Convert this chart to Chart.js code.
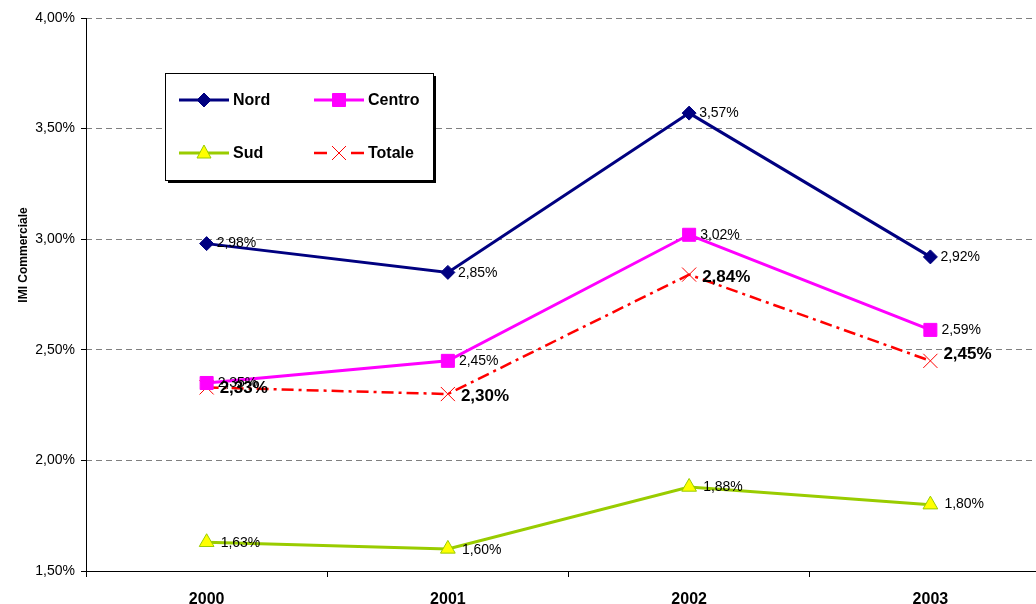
<!DOCTYPE html>
<html>
<head>
<meta charset="utf-8">
<script src="https://cdn.jsdelivr.net/npm/chart.js@4.4.1/dist/chart.umd.min.js"></script>
<style>
html,body{margin:0;padding:0;background:#fff;overflow:hidden;}
#wrap{position:relative;width:1062px;height:604px;}
canvas{display:block;}
</style>
</head>
<body>
<div id="wrap"><canvas id="c" width="1062" height="604"></canvas></div>
<script>
const categories = ['2000', '2001', '2002', '2003'];
const nord   = [2.98, 2.85, 3.57, 2.92];
const centro = [2.35, 2.45, 3.02, 2.59];
const sud    = [1.63, 1.60, 1.88, 1.80];
const totale = [2.33, 2.30, 2.84, 2.45];
const seriesNames = ['Nord', 'Centro', 'Sud', 'Totale'];
const yMin = 1.5, yMax = 4.0, yStep = 0.5;
const yTitle = 'IMI Commerciale';

const FONT = "'Liberation Sans', Arial, sans-serif";
const fmt = v => v.toFixed(2).replace('.', ',') + '%';

// label styling per dataset: dx, dy, bold, size
const labelStyle = [
  {dx: 10, dy: [0, 1, 0, 0], bold: false, size: 14},
  {dx: 11, dy: [0, 0, 0, 0], bold: false, size: 14},
  {dx: 14, dy: [1, 1, 0, 0], bold: false, size: 14},
  {dx: 13, dy: [1, 2, 3, -7], bold: true, size: 17}
];

const dataLabels = {
  id: 'dataLabels',
  afterDatasetsDraw(chart) {
    const ctx = chart.ctx;
    ctx.save();
    chart.data.datasets.forEach((ds, i) => {
      const meta = chart.getDatasetMeta(i);
      const st = labelStyle[i];
      ctx.font = (st.bold ? 'bold ' : '') + st.size + 'px ' + FONT;
      ctx.fillStyle = '#000';
      ctx.textAlign = 'left';
      ctx.textBaseline = 'middle';
      meta.data.forEach((pt, j) => {
        ctx.fillText(fmt(ds.data[j]), pt.x + st.dx, pt.y + st.dy[j]);
      });
    });
    ctx.restore();
  }
};

function drawMarker(ctx, style, cx, cy, fill, stroke) {
  ctx.save();
  ctx.fillStyle = fill; ctx.strokeStyle = stroke; ctx.lineWidth = 1;
  ctx.setLineDash([]);
  ctx.beginPath();
  if (style === 'rectRot') {
    ctx.moveTo(cx, cy - 7); ctx.lineTo(cx + 7, cy); ctx.lineTo(cx, cy + 7); ctx.lineTo(cx - 7, cy); ctx.closePath();
    ctx.fill(); ctx.stroke();
  } else if (style === 'rect') {
    ctx.rect(cx - 6.5, cy - 6.5, 13, 13); ctx.fill(); ctx.stroke();
  } else if (style === 'triangle') {
    ctx.moveTo(cx, cy - 8); ctx.lineTo(cx + 7, cy + 5); ctx.lineTo(cx - 7, cy + 5); ctx.closePath();
    ctx.fill(); ctx.stroke();
  } else {
    ctx.moveTo(cx - 7, cy - 7); ctx.lineTo(cx + 7, cy + 7);
    ctx.moveTo(cx + 7, cy - 7); ctx.lineTo(cx - 7, cy + 7);
    ctx.stroke();
  }
  ctx.restore();
}

const boxLegend = {
  id: 'boxLegend',
  afterDraw(chart) {
    const ctx = chart.ctx;
    const b = {x: 165, y: 73, w: 268, h: 107};
    ctx.save();
    ctx.fillStyle = '#000';
    ctx.fillRect(b.x + 3, b.y + 3, b.w, b.h);
    ctx.fillStyle = '#fff';
    ctx.fillRect(b.x, b.y, b.w, b.h);
    ctx.strokeStyle = '#000'; ctx.lineWidth = 1;
    ctx.strokeRect(b.x + 0.5, b.y + 0.5, b.w, b.h);
    const pos = [[179, 100], [314, 100], [179, 153], [314, 153]];
    chart.data.datasets.forEach((ds, i) => {
      const [x, y] = pos[i];
      ctx.strokeStyle = ds.borderColor;
      ctx.lineWidth = ds.borderWidth;
      ctx.setLineDash(i === 3 ? [13, 24, 13] : []);
      ctx.beginPath(); ctx.moveTo(x, y); ctx.lineTo(x + 50, y); ctx.stroke();
      ctx.setLineDash([]);
      drawMarker(ctx, ds.pointStyle, x + 25, y, ds.pointBackgroundColor, ds.pointBorderColor);
      ctx.fillStyle = '#000';
      ctx.font = 'bold 16px ' + FONT;
      ctx.textAlign = 'left'; ctx.textBaseline = 'middle';
      ctx.fillText(ds.label, x + 54, y + 1);
    });
    ctx.restore();
  }
};

const axisDecor = {
  id: 'axisDecor',
  afterDraw(chart) {
    const ctx = chart.ctx, a = chart.chartArea;
    ctx.save();
    ctx.strokeStyle = '#000'; ctx.lineWidth = 1; ctx.setLineDash([]);
    ctx.beginPath();
    ctx.moveTo(a.left + 0.5, a.top); ctx.lineTo(a.left + 0.5, a.bottom + 1);
    ctx.stroke();
    ctx.translate(24, 255);
    ctx.rotate(-Math.PI / 2);
    ctx.font = 'bold 12px ' + FONT;
    ctx.fillStyle = '#000';
    ctx.textAlign = 'center'; ctx.textBaseline = 'middle';
    ctx.fillText(yTitle, 0, 0);
    ctx.restore();
  }
};

new Chart(document.getElementById('c'), {
  type: 'line',
  data: {
    labels: categories,
    datasets: [
      {label: seriesNames[0], data: nord, borderColor: '#000080', borderWidth: 3,
       pointStyle: 'rectRot', pointRadius: 7, pointBackgroundColor: '#000080', pointBorderColor: '#000080', pointBorderWidth: 1},
      {label: seriesNames[1], data: centro, borderColor: '#FF00FF', borderWidth: 3,
       pointStyle: 'rect', pointRadius: 9.2, pointBackgroundColor: '#FF00FF', pointBorderColor: '#FF00FF', pointBorderWidth: 1},
      {label: seriesNames[2], data: sud, borderColor: '#99CC00', borderWidth: 3,
       pointStyle: 'triangle', pointRadius: 8.5, pointBackgroundColor: '#FFFF00', pointBorderColor: '#99CC00', pointBorderWidth: 1},
      {label: seriesNames[3], data: totale, borderColor: '#FF0000', borderWidth: 2.5, borderDash: [12, 5, 3, 5],
       pointStyle: 'crossRot', pointRadius: 10, pointBackgroundColor: '#FF0000', pointBorderColor: '#FF0000', pointBorderWidth: 1}
    ]
  },
  options: {
    responsive: false,
    maintainAspectRatio: false,
    animation: false,
    devicePixelRatio: 1,
    layout: {padding: {top: 18, left: 0, right: 0, bottom: 0}},
    elements: {line: {tension: 0, fill: false}},
    plugins: {legend: {display: false}, tooltip: {enabled: false}, title: {display: false}},
    scales: {
      x: {
        offset: true,
        grid: {display: true, offset: true, drawOnChartArea: false, color: '#000', tickColor: '#000', tickLength: 6},
        border: {display: true, color: '#000', width: 1},
        ticks: {color: '#000', font: {family: FONT, size: 16, weight: 'bold'}, padding: 13, maxRotation: 0},
        afterFit: s => { s.height = 33; }
      },
      y: {
        min: yMin, max: yMax,
        grid: {color: '#808080', lineWidth: 1, tickColor: '#000', tickLength: 5, drawTicks: true},
        border: {display: false, dash: [6, 4]},
        ticks: {stepSize: yStep, color: '#000', font: {family: FONT, size: 14}, padding: 6,
                callback: v => fmt(v)},
        afterFit: s => { s.width = 86; }
      }
    }
  },
  plugins: [dataLabels, axisDecor, boxLegend]
});
</script>
</body>
</html>
